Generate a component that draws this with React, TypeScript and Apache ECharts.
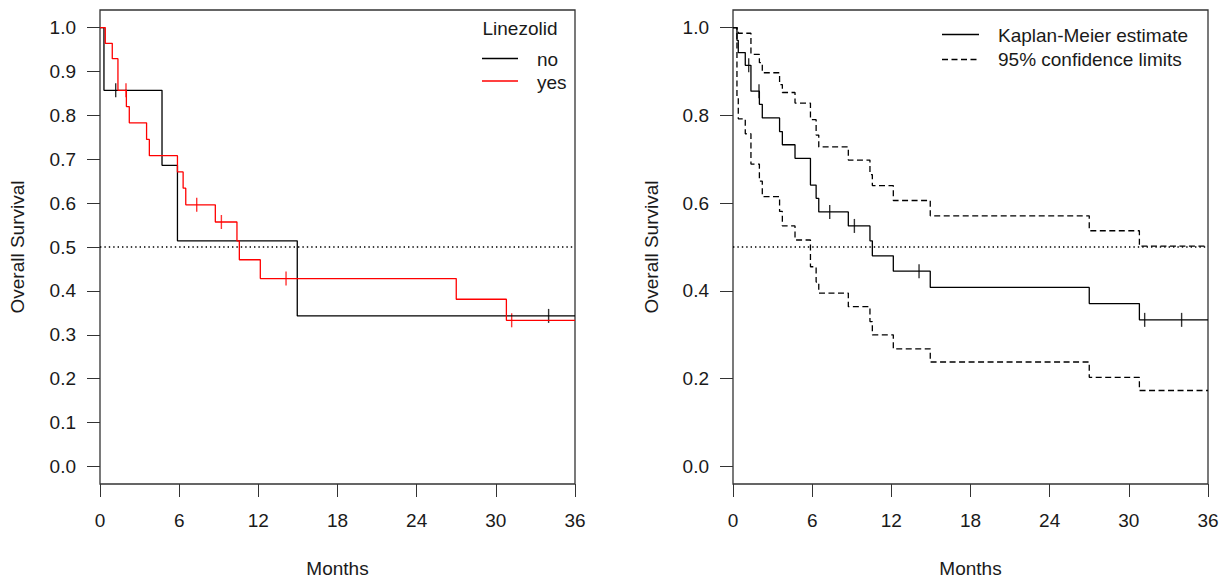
import React, { useEffect, useRef } from "react";
import * as echarts from "echarts";

// ---- data ----
const monthTicks = [0, 6, 12, 18, 24, 30, 36];
const survivalTicksLeft = [0, 0.1, 0.2, 0.3, 0.4, 0.5, 0.6, 0.7, 0.8, 0.9, 1.0];
const survivalTicksRight = [0, 0.2, 0.4, 0.6, 0.8, 1.0];

// Left panel: Linezolid = no
const noTimes = [0, 0.3, 4.7, 5.87, 14.95, 36];
const noSurv = [1, 0.857, 0.686, 0.514, 0.343, 0.343];
const noCensorTimes = [1.19, 34.0];
const noCensorSurv = [0.857, 0.343];

// Left panel: Linezolid = yes
const yesTimes = [0, 0.4, 0.93, 1.36, 2.0, 2.22, 3.53, 3.74, 5.87, 6.3, 6.5, 8.74, 10.38, 10.56, 12.15, 27.0, 30.8, 36];
const yesSurv = [1, 0.964, 0.929, 0.857, 0.82, 0.783, 0.745, 0.708, 0.671, 0.634, 0.596, 0.557, 0.514, 0.471, 0.428, 0.381, 0.333, 0.333];
const yesCensorTimes = [1.97, 7.33, 9.2, 14.1, 31.2];
const yesCensorSurv = [0.857, 0.596, 0.557, 0.428, 0.333];

// Right panel: overall Kaplan-Meier with 95% limits
const allTimes = [0, 0.3, 0.4, 0.93, 1.36, 2.0, 2.22, 3.53, 3.74, 4.7, 5.87, 6.3, 6.5, 8.74, 10.38, 10.56, 12.15, 14.95, 27.0, 30.8, 36];
const kmSurv = [1, 0.971, 0.943, 0.914, 0.855, 0.825, 0.794, 0.763, 0.733, 0.702, 0.641, 0.611, 0.58, 0.548, 0.514, 0.48, 0.445, 0.408, 0.371, 0.334, 0.334];
const kmUpper = [1, 0.992, 0.987, 0.987, 0.939, 0.92, 0.897, 0.87, 0.852, 0.828, 0.79, 0.755, 0.728, 0.698, 0.665, 0.64, 0.606, 0.571, 0.537, 0.502, 0.502];
const kmLower = [1, 0.84, 0.792, 0.758, 0.689, 0.65, 0.615, 0.581, 0.548, 0.516, 0.455, 0.42, 0.395, 0.364, 0.33, 0.3, 0.268, 0.238, 0.203, 0.173, 0.173];
const kmCensorTimes = [1.19, 1.97, 7.33, 9.2, 14.1, 31.2, 34.0];
const kmCensorSurv = [0.914, 0.855, 0.58, 0.548, 0.445, 0.334, 0.334];

const medianRef = 0.5;

const legendTitle = "Linezolid";
const groupNames = ["no", "yes"];
const rightLegend = ["Kaplan-Meier estimate", "95% confidence limits"];
const xTitle = "Months";
const yTitle = "Overall Survival";

const FONT = "'Liberation Sans', Arial, sans-serif";
const TXT = "#1a1a1a";
const AX = "#333333";

const pairs = (xs: number[], ys: number[]) => xs.map((x, i) => [x, ys[i]]);

function App() {
  const ref = useRef<HTMLDivElement>(null);
  useEffect(() => {
    if (!ref.current) return;
    const chart = echarts.init(ref.current, null, { renderer: "svg" });

    const grids = [
      { left: 100, top: 10, width: 475, height: 474 },
      { left: 733, top: 10, width: 475, height: 474 },
    ];
    const yTickSets = [survivalTicksLeft, survivalTicksRight];

    const xAxis = grids.map((_, i) => ({
      type: "value",
      gridIndex: i,
      min: 0,
      max: 36,
      interval: 6,
      axisLine: { show: false, onZero: false },
      axisTick: { show: true, length: 13, lineStyle: { color: AX, width: 1 } },
      axisLabel: {
        show: true,
        margin: 27,
        fontSize: 19,
        fontFamily: FONT,
        color: TXT,
        customValues: monthTicks,
      },
      splitLine: { show: false },
    }));

    const yAxis = grids.map((_, i) => ({
      type: "value",
      gridIndex: i,
      min: -0.04,
      max: 1.04,
      axisLine: { show: false, onZero: false },
      axisTick: { show: true, length: 13, lineStyle: { color: AX, width: 1 }, customValues: yTickSets[i] },
      axisLabel: {
        show: true,
        margin: 24,
        fontSize: 19,
        fontFamily: FONT,
        color: TXT,
        customValues: yTickSets[i],
        formatter: (v: number) => v.toFixed(1),
      },
      splitLine: { show: false },
    }));

    const stepLine = (data: number[][], idx: number, color: string, type: any, name: string) => ({
      type: "line",
      name,
      xAxisIndex: idx,
      yAxisIndex: idx,
      step: "end",
      data,
      symbol: "none",
      silent: true,
      lineStyle: { color, width: 1.3, type },
    });

    const censor = (data: number[][], idx: number, color: string, name: string) => ({
      type: "scatter",
      name,
      xAxisIndex: idx,
      yAxisIndex: idx,
      data,
      symbol: "rect",
      symbolSize: [1.4, 14],
      itemStyle: { color },
      silent: true,
    });

    const refLine = (idx: number) => ({
      type: "line",
      name: "median" + idx,
      xAxisIndex: idx,
      yAxisIndex: idx,
      data: [
        [0, medianRef],
        [36, medianRef],
      ],
      symbol: "none",
      silent: true,
      lineStyle: { color: "#000", width: 1.3, type: [1.4, 3] },
    });

    const series: any[] = [
      refLine(0),
      stepLine(pairs(noTimes, noSurv), 0, "#000000", "solid", "no"),
      stepLine(pairs(yesTimes, yesSurv), 0, "#ff0000", "solid", "yes"),
      censor(pairs(noCensorTimes, noCensorSurv), 0, "#000000", "no-c"),
      censor(pairs(yesCensorTimes, yesCensorSurv), 0, "#ff0000", "yes-c"),
      refLine(1),
      stepLine(pairs(allTimes, kmUpper), 1, "#000000", [6, 3.5], "upper"),
      stepLine(pairs(allTimes, kmLower), 1, "#000000", [6, 3.5], "lower"),
      stepLine(pairs(allTimes, kmSurv), 1, "#000000", "solid", "km"),
      censor(pairs(kmCensorTimes, kmCensorSurv), 1, "#000000", "km-c"),
    ];

    const txt = (x: number, y: number, text: string, align = "left", extra: any = {}) => ({
      type: "text",
      x,
      y,
      silent: true,
      ...extra,
      style: {
        text,
        fill: TXT,
        font: `19px ${FONT}`,
        align,
        verticalAlign: "middle",
      },
    });

    const seg = (x1: number, x2: number, y: number, color: string, dash?: number[]) => ({
      type: "line",
      silent: true,
      shape: { x1, y1: y, x2, y2: y },
      style: { stroke: color, lineWidth: 1.3, lineDash: dash },
    });

    const graphic: any[] = [
      ...grids.map((g) => ({
        type: "rect",
        silent: true,
        shape: { x: g.left, y: g.top, width: g.width, height: g.height },
        style: { fill: "none", stroke: AX, lineWidth: 1.3 },
      })),
      txt(337.5, 568, xTitle, "center"),
      txt(970.5, 568, xTitle, "center"),
      txt(17, 247, yTitle, "center", { rotation: Math.PI / 2 }),
      txt(651, 247, yTitle, "center", { rotation: Math.PI / 2 }),
      txt(520, 28, legendTitle, "center"),
      seg(482, 518, 58.5, "#000000"),
      seg(482, 518, 81, "#ff0000"),
      txt(537, 59.5, groupNames[0]),
      txt(537, 82, groupNames[1]),
      seg(942, 979, 34.5, "#000000"),
      seg(942, 979, 59.5, "#000000", [6, 3.5]),
      txt(998, 35, rightLegend[0]),
      txt(998, 59.5, rightLegend[1]),
    ];

    chart.setOption({
      animation: false,
      backgroundColor: "#ffffff",
      textStyle: { fontFamily: FONT },
      grid: grids.map((g) => ({ ...g, containLabel: false, show: false })),
      xAxis,
      yAxis,
      series,
      graphic,
    });

    return () => chart.dispose();
  }, []);

  return (
    <div
      ref={ref}
      style={{ position: "absolute", left: 0, top: 0, width: 1227, height: 580, background: "#fff" }}
    />
  );
}

export default App;
